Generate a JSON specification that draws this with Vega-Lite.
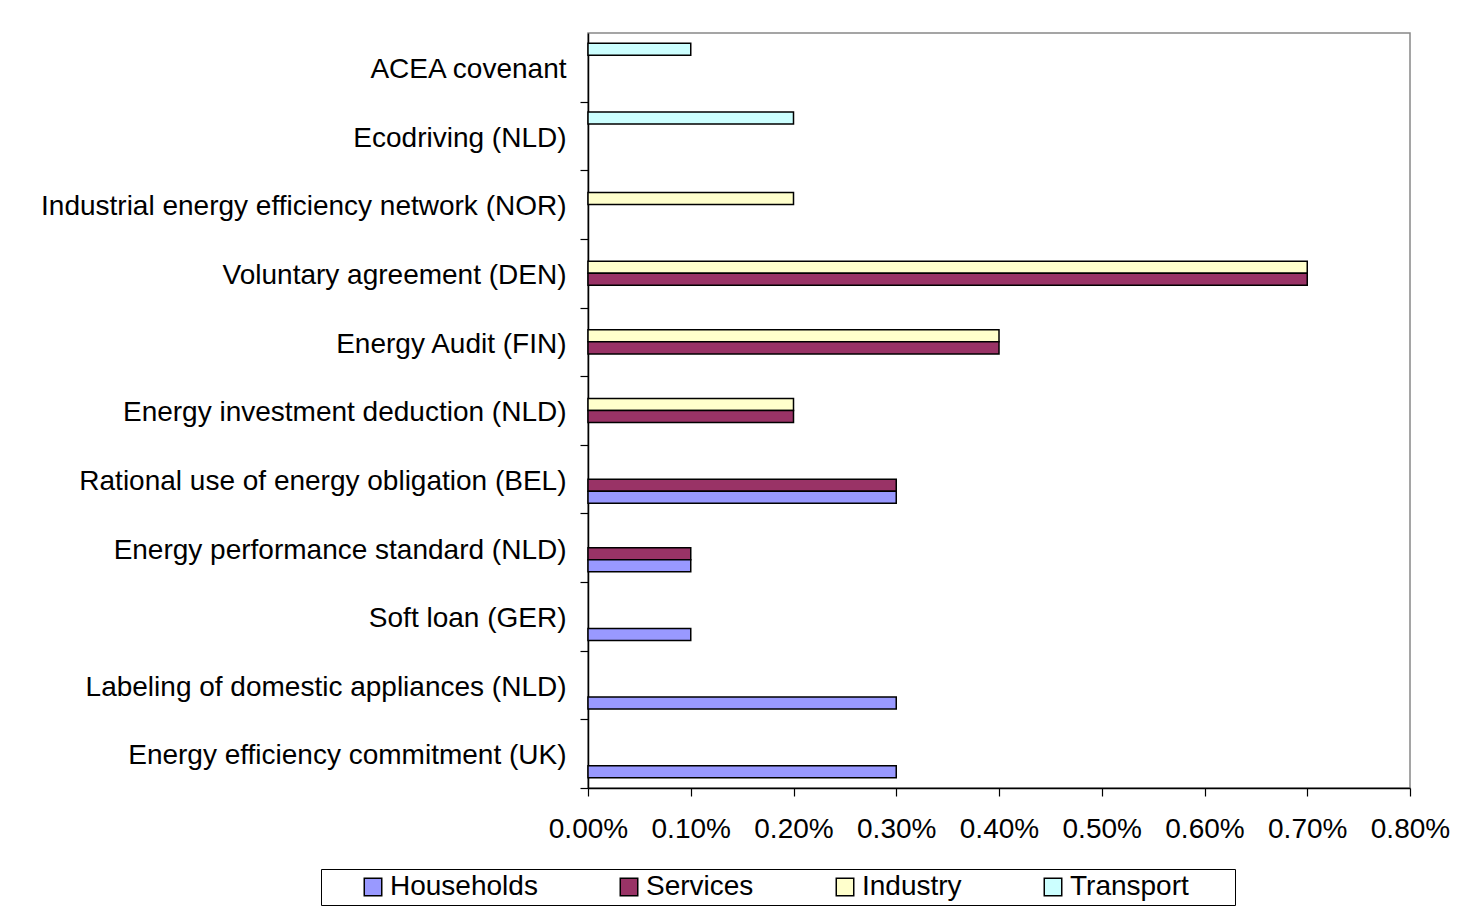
{
  "$schema": "https://vega.github.io/schema/vega-lite/v6.json",
  "autosize": {"type": "none"},
  "padding": {"left": 588, "top": 33, "right": 50, "bottom": 125},
  "width": 822,
  "height": 755,
  "background": "white",
  "config": {
    "font": "Liberation Sans",
    "view": {"stroke": "#888888", "strokeWidth": 1.5}
  },
  "data": {
    "values": [
      {"measure": "ACEA covenant", "sector": "Transport", "value": 0.001},
      {"measure": "Ecodriving (NLD)", "sector": "Transport", "value": 0.002},
      {"measure": "Industrial energy efficiency network (NOR)", "sector": "Industry", "value": 0.002},
      {"measure": "Voluntary agreement (DEN)", "sector": "Industry", "value": 0.007},
      {"measure": "Voluntary agreement (DEN)", "sector": "Services", "value": 0.007},
      {"measure": "Energy Audit (FIN)", "sector": "Industry", "value": 0.004},
      {"measure": "Energy Audit (FIN)", "sector": "Services", "value": 0.004},
      {"measure": "Energy investment deduction (NLD)", "sector": "Industry", "value": 0.002},
      {"measure": "Energy investment deduction (NLD)", "sector": "Services", "value": 0.002},
      {"measure": "Rational use of energy obligation (BEL)", "sector": "Services", "value": 0.003},
      {"measure": "Rational use of energy obligation (BEL)", "sector": "Households", "value": 0.003},
      {"measure": "Energy performance standard (NLD)", "sector": "Services", "value": 0.001},
      {"measure": "Energy performance standard (NLD)", "sector": "Households", "value": 0.001},
      {"measure": "Soft loan (GER)", "sector": "Households", "value": 0.001},
      {"measure": "Labeling of domestic appliances (NLD)", "sector": "Households", "value": 0.003},
      {"measure": "Energy efficiency commitment (UK)", "sector": "Households", "value": 0.003}
    ]
  },
  "mark": {"type": "bar", "stroke": "black", "strokeWidth": 1.5},
  "encoding": {
    "y": {
      "field": "measure",
      "type": "nominal",
      "sort": [
        "ACEA covenant",
        "Ecodriving (NLD)",
        "Industrial energy efficiency network (NOR)",
        "Voluntary agreement (DEN)",
        "Energy Audit (FIN)",
        "Energy investment deduction (NLD)",
        "Rational use of energy obligation (BEL)",
        "Energy performance standard (NLD)",
        "Soft loan (GER)",
        "Labeling of domestic appliances (NLD)",
        "Energy efficiency commitment (UK)"
      ],
      "scale": {"paddingInner": 0.3, "paddingOuter": 0.15},
      "axis": {
        "title": null,
        "bandPosition": 1,
        "tickExtra": false,
        "tickOffset": 10.3,
        "labelOffset": -8,
        "grid": false,
        "labelFontSize": 28,
        "labelColor": "black",
        "labelPadding": 14,
        "labelLimit": 0,
        "tickSize": 8,
        "tickColor": "black",
        "tickWidth": 1.2,
        "domainColor": "black",
        "domainWidth": 1.5
      }
    },
    "yOffset": {
      "field": "sector",
      "type": "nominal",
      "scale": {"domain": ["Transport", "Industry", "Services", "Households"], "paddingInner": 0, "paddingOuter": 0}
    },
    "x": {
      "field": "value",
      "type": "quantitative",
      "scale": {"domain": [0, 0.008], "nice": false, "zero": true},
      "axis": {
        "title": null,
        "format": ".2%",
        "values": [0, 0.001, 0.002, 0.003, 0.004, 0.005, 0.006, 0.007, 0.008],
        "grid": false,
        "labelFontSize": 28,
        "labelColor": "black",
        "labelPadding": 19,
        "labelFlush": false,
        "labelOverlap": false,
        "tickSize": 8,
        "tickColor": "black",
        "tickWidth": 1.2,
        "domainColor": "black",
        "domainWidth": 1.5
      }
    },
    "color": {
      "field": "sector",
      "type": "nominal",
      "scale": {
        "domain": ["Households", "Services", "Industry", "Transport"],
        "range": ["#9999FF", "#993366", "#FFFFCC", "#CCFFFF"]
      },
      "legend": {
        "orient": "none",
        "legendX": -267,
        "legendY": 836,
        "direction": "horizontal",
        "title": " ",
        "titleOrient": "left",
        "titleFontSize": 28,
        "titlePadding": 34,
        "labelFontSize": 28,
        "labelColor": "black",
        "labelOffset": 3,
        "labelLimit": 0,
        "labelExpr": "datum.label == 'Transport' ? 'Transport\u2800\u2800' : datum.label",
        "symbolType": "square",
        "symbolSize": 306,
        "symbolStrokeColor": "black",
        "symbolStrokeWidth": 1.5,
        "columnPadding": 77,
        "padding": 4,
        "strokeColor": "black"
      }
    }
  }
}
